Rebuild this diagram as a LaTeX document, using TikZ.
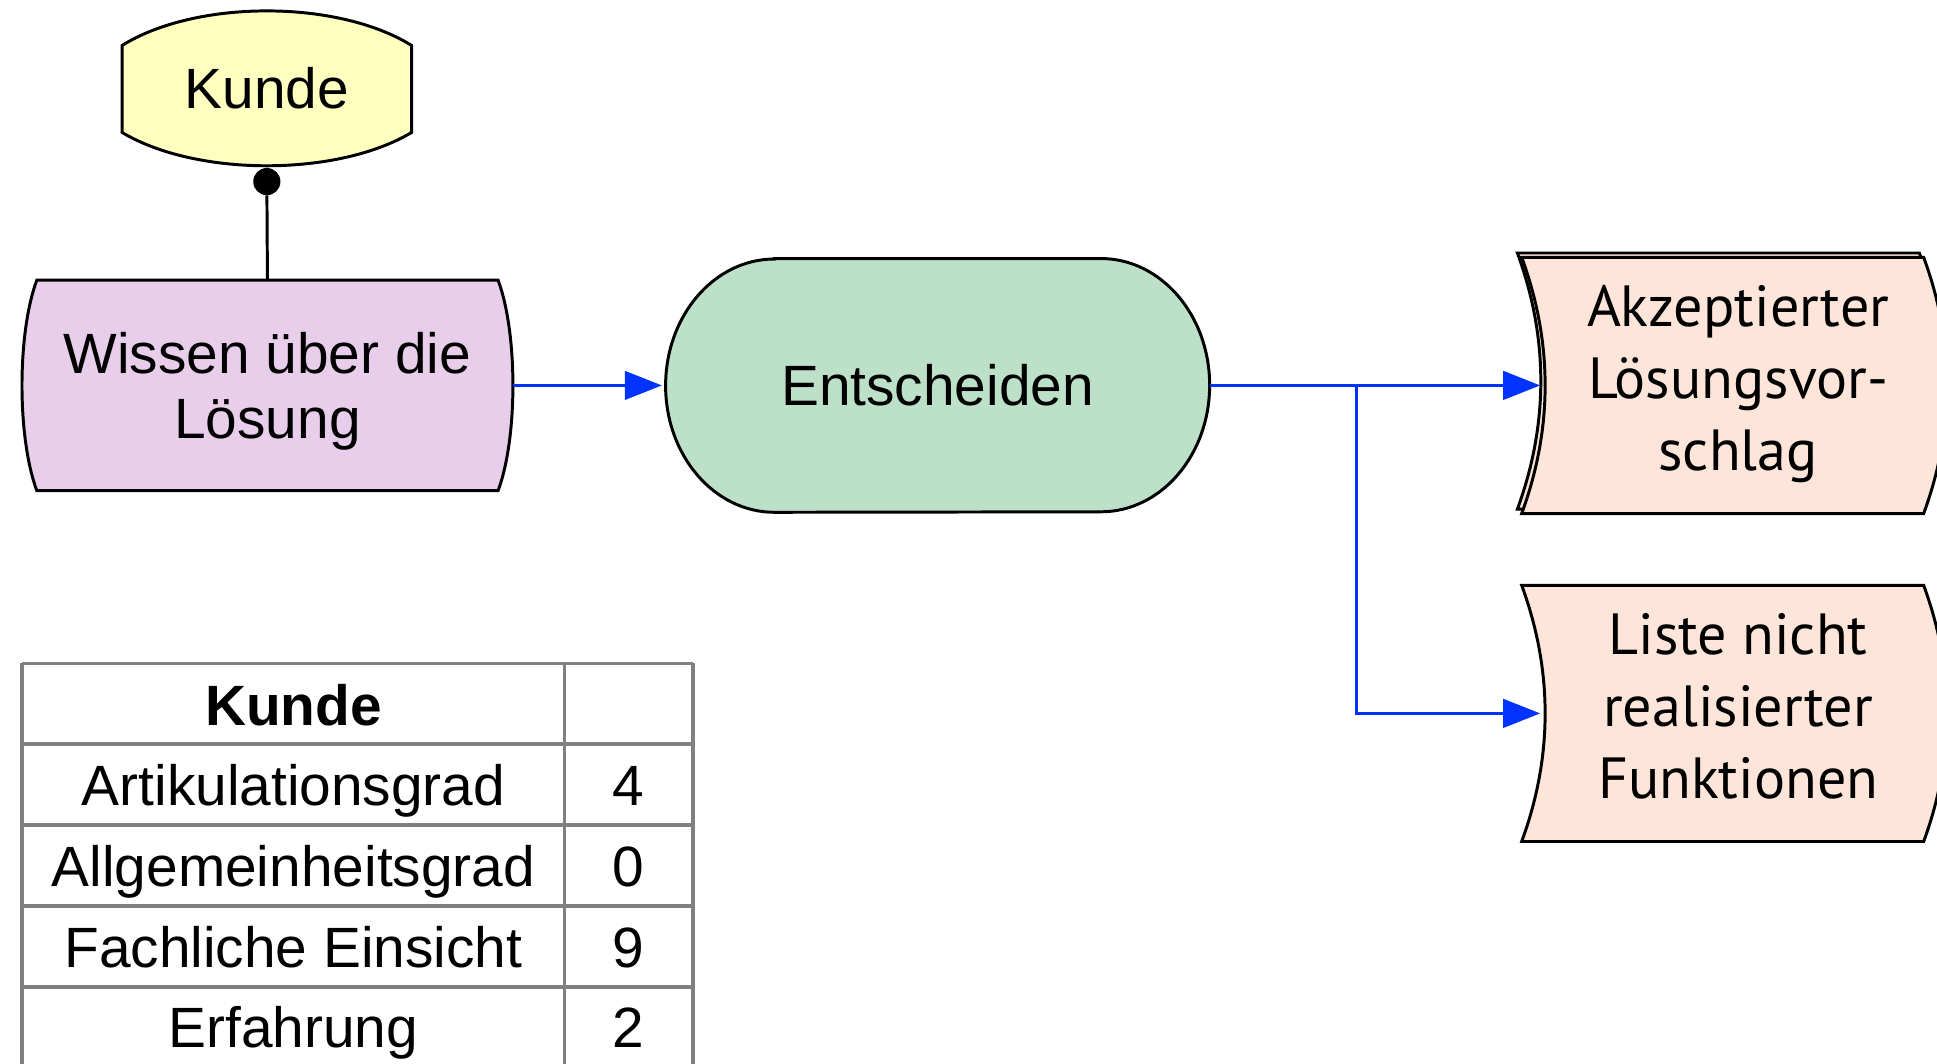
\documentclass[tikz,border=0pt]{standalone}
\usepackage{fontspec}
\setmainfont{Liberation Sans}
\newfontfamily\ergebnisschrift{PT Sans}
\usetikzlibrary{arrows, arrows.meta}
\usetikzlibrary{calc}
\usetikzlibrary{backgrounds}

\definecolor{kundegelb}{RGB}{255,255,192}
\definecolor{wissenlila}{RGB}{233,206,235}
\definecolor{funktionsgruen}{RGB}{188,224,200}
\definecolor{ergebnisrosa}{RGB}{253,229,217}
\definecolor{flussblau}{RGB}{0,51,255}
\definecolor{tabellengrau}{RGB}{128,128,128}

\begin{document}
\begin{tikzpicture}[x=1pt, y=1pt,
    umriss/.style={draw=black, line width=2.4pt},
    fluss/.style={draw=flussblau, line width=2.6pt, shorten >=3pt, -{Triangle[length=30pt, width=23pt]}},
    kasten/.style={inner sep=0pt, align=center, font=\fontsize{46}{53}\selectfont},
    ergebnis/.style={inner sep=0pt, align=center, text depth=12pt, minimum width=314pt, minimum height=207pt, font=\ergebnisschrift\fontsize{47}{58.5}\selectfont},
    zelle/.style={inner sep=0pt, anchor=base, font=\fontsize{46}{53}\selectfont},
    gitter/.style={draw=tabellengrau, line width=3pt}]
    \useasboundingbox (0,0) rectangle (1568,-861);

    \node[kasten, minimum width=234pt, minimum height=125pt] (kunde) at (216,-71.5) {Kunde};
    \node[circle, fill, inner sep=0pt, minimum size=22pt] (punkt) at (216,-147) {};
    \node[kasten, text depth=0pt, minimum width=397pt, minimum height=170pt] (wissen) at (216.5,-312) {Wissen über die\\Lösung};
    \node[kasten, minimum width=440pt, minimum height=205pt] (entscheiden) at (759,-312) {Entscheiden};
    \node[ergebnis] (vorschlag) at (1407,-312) {Akzeptierter\\Lösungsvor-\\schlag};
    \node[ergebnis] (liste) at (1407,-577.5) {Liste nicht\\realisierter\\Funktionen};
    \coordinate (abzweig) at (1098,-312);

    \begin{scope}[on background layer]
      \filldraw[umriss, fill=kundegelb] ($(kunde.north west)+(0,-28)$) .. controls ($(kunde.north west)+(60,9.3)$) and ($(kunde.north east)+(-60,9.3)$) .. ($(kunde.north east)+(0,-28)$) -- ($(kunde.south east)+(0,27)$) .. controls ($(kunde.south east)+(-60,-9)$) and ($(kunde.south west)+(60,-9)$) .. ($(kunde.south west)+(0,27)$) -- cycle;
      \filldraw[umriss, fill=wissenlila] ($(wissen.north west)+(12,0)$) -- ($(wissen.north east)+(-12,0)$) .. controls ($(wissen.north east)+(4,-43)$) and ($(wissen.south east)+(4,43)$) .. ($(wissen.south east)+(-12,0)$) -- ($(wissen.south west)+(12,0)$) .. controls ($(wissen.south west)+(-4,43)$) and ($(wissen.north west)+(-4,-43)$) .. ($(wissen.north west)+(12,0)$) -- cycle;
      \filldraw[umriss, fill=funktionsgruen] ($(entscheiden.north west)+(88,0)$) -- ($(entscheiden.north east)+(-88,0)$) arc[start angle=90, end angle=-90, x radius=88, y radius=102.5] -- ($(entscheiden.south west)+(88,0)$) arc[start angle=270, end angle=90, x radius=88, y radius=102.5] -- cycle;
      \foreach \knoten/\versatz in {vorschlag/-3.5, vorschlag/0, liste/0}
        \filldraw[umriss, fill=ergebnisrosa] ($(\knoten.north west)+(-18+\versatz,-\versatz)$) -- ($(\knoten.north east)+(-7+\versatz,-\versatz)$) .. controls ($(\knoten.north east)+(18.3+\versatz,-69-\versatz)$) and ($(\knoten.south east)+(18.3+\versatz,69-\versatz)$) .. ($(\knoten.south east)+(-7+\versatz,-\versatz)$) -- ($(\knoten.south west)+(-18+\versatz,-\versatz)$) .. controls ($(\knoten.south west)+(7.3+\versatz,69-\versatz)$) and ($(\knoten.north west)+(7.3+\versatz,-69-\versatz)$) .. ($(\knoten.north west)+(-18+\versatz,-\versatz)$) -- cycle;
    \end{scope}

    \draw[line width=2.4pt] (punkt) -- (wissen.north);
    \draw[fluss] (wissen.east) -- (entscheiden.west);
    \draw[fluss] (entscheiden.east) -- (vorschlag.west);
    \draw[fluss] (abzweig) |- (liste.west);

    \foreach \i in {0,...,4}
      \draw[gitter] (18,{-537-65.5*\i}) -- (561,{-537-65.5*\i});
    \foreach \x in {18,457,561}
      \draw[gitter] (\x,-537) -- (\x,-880);
    \node[zelle, font=\fontsize{46}{53}\selectfont\bfseries] (kopf) at (237.5,-587) {Kunde};
    \foreach \merkmal/\wert [count=\i] in {Artikulationsgrad/4, Allgemeinheitsgrad/0, Fachliche Einsicht/9, Erfahrung/2} {
      \node[zelle] (merkmal\i) at (237.5,{-587-65.3*\i}) {\merkmal};
      \node[zelle] (wert\i) at (509,{-587-65.3*\i}) {\wert};
    }
\end{tikzpicture}
\end{document}
